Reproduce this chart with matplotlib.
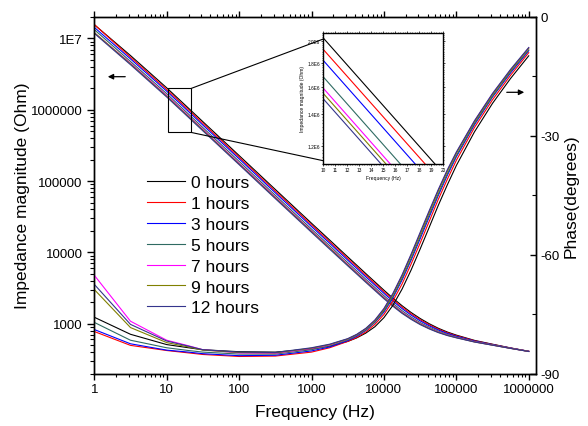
import matplotlib
matplotlib.use("Agg")
import matplotlib.pyplot as plt
from matplotlib.ticker import FixedLocator, NullFormatter, LogLocator
from matplotlib.patches import Rectangle, ConnectionPatch

plt.rcParams['font.family'] = ['Liberation Sans', 'DejaVu Sans']
plt.rcParams['axes.unicode_minus'] = False

# ---------------- data ----------------
freq = [1, 3.16, 10, 20, 31.6, 100, 316, 1000, 1780, 3160, 4220, 5620, 7500, 1e4,
        1.33e4, 1.78e4, 2.37e4, 3.16e4, 4.22e4, 5.62e4, 7.5e4, 1e5, 1.78e5, 3.16e5,
        5.62e5, 1e6]

labels = ['0 hours', '1 hours', '3 hours', '5 hours', '7 hours', '9 hours', '12 hours']
colors = ['#000000', '#ff0000', '#0000ff', '#2f6b62', '#ff00ff', '#808000', '#34348c']

z_0h = [1.56e7, 5.76e6, 2.03e6, 1.051e6, 6.80e5, 2.28e5, 7.63e4, 2.56e4, 1.49e4, 8650,
        6600, 5040, 3855, 2950, 2280, 1786, 1436, 1183, 998, 863, 764, 691, 583, 515, 457, 410]
z_1h = [1.57e7, 5.46e6, 1.92e6, 9.96e5, 6.45e5, 2.16e5, 7.23e4, 2.43e4, 1.41e4, 8210,
        6266, 4787, 3663, 2805, 2172, 1705, 1376, 1138, 965, 839, 746, 678, 576, 511, 455, 409]
z_3h = [1.43e7, 5.17e6, 1.82e6, 9.43e5, 6.10e5, 2.05e5, 6.84e4, 2.30e4, 1.34e4, 7778,
        5939, 4539, 3476, 2663, 2067, 1626, 1319, 1095, 934, 816, 729, 666, 570, 508, 454, 409]
z_5h = [1.33e7, 4.76e6, 1.68e6, 8.69e5, 5.62e5, 1.89e5, 6.31e4, 2.12e4, 1.24e4, 7186,
        5491, 4199, 3219, 2469, 1924, 1519, 1240, 1037, 892, 785, 707, 651, 562, 504, 452, 408]
z_7h = [1.20e7, 4.50e6, 1.59e6, 8.22e5, 5.32e5, 1.78e5, 5.97e4, 2.01e4, 1.17e4, 6807,
        5204, 3982, 3055, 2345, 1832, 1451, 1191, 1001, 865, 766, 693, 641, 557, 501, 451, 408]
z_9h = [1.21e7, 4.41e6, 1.55e6, 8.04e5, 5.20e5, 1.74e5, 5.84e4, 1.97e4, 1.15e4, 6663,
        5096, 3900, 2993, 2299, 1798, 1425, 1172, 988, 855, 759, 688, 637, 555, 500, 450, 408]
z_12h = [1.18e7, 4.29e6, 1.51e6, 7.82e5, 5.06e5, 1.70e5, 5.68e4, 1.91e4, 1.11e4, 6487,
         4962, 3799, 2917, 2241, 1756, 1394, 1150, 971, 844, 750, 682, 633, 553, 499, 450, 407]

p_0h = [-75.8, -80.1, -82.7, -83.5, -84.0, -84.5, -84.6, -83.8, -83.1, -81.9, -81.0, -79.8,
        -78.2, -75.9, -72.8, -68.7, -63.9, -58.6, -53.1, -47.6, -42.4, -37.5, -29.0, -21.8,
        -15.5, -9.8]
p_1h = [-79.4, -82.9, -84.2, -84.8, -85.2, -85.7, -85.6, -84.6, -83.5, -81.9, -80.9, -79.5,
        -77.6, -75.1, -71.7, -67.4, -62.4, -57.1, -51.6, -46.1, -41.0, -36.2, -27.9, -20.9,
        -14.7, -9.0]
p_3h = [-78.9, -82.5, -84.1, -84.6, -85.0, -85.5, -85.4, -84.3, -83.3, -81.7, -80.6, -79.1,
        -77.1, -74.5, -70.9, -66.4, -61.4, -56.0, -50.5, -45.1, -40.0, -35.3, -27.2, -20.2,
        -14.1, -8.5]
p_5h = [-77.1, -81.6, -83.5, -84.2, -84.6, -85.1, -85.1, -84.0, -83.0, -81.5, -80.4, -79.0,
        -77.0, -74.2, -70.6, -66.0, -61.0, -55.5, -50.0, -44.7, -39.6, -35.0, -26.9, -20.0,
        -13.8, -8.3]
p_7h = [-65.2, -76.8, -81.6, -83.0, -84.0, -84.8, -84.9, -83.7, -82.8, -81.3, -80.2, -78.7,
        -76.6, -73.7, -69.9, -65.3, -60.1, -54.7, -49.2, -43.8, -38.8, -34.3, -26.3, -19.4,
        -13.4, -7.8]
p_9h = [-68.8, -78.4, -82.2, -83.3, -84.1, -84.7, -84.8, -83.6, -82.7, -81.3, -80.2, -78.7,
        -76.7, -73.9, -70.1, -65.5, -60.3, -54.9, -49.4, -44.0, -39.0, -34.4, -26.5, -19.6,
        -13.5, -7.9]
p_12h = [-67.5, -77.6, -81.8, -83.1, -84.0, -84.6, -84.7, -83.5, -82.6, -81.2, -80.1, -78.6,
         -76.5, -73.6, -69.8, -65.1, -59.9, -54.4, -48.9, -43.6, -38.6, -34.1, -26.2, -19.3,
         -13.2, -7.7]

impedance = [z_0h, z_1h, z_3h, z_5h, z_7h, z_9h, z_12h]
phase = [p_0h, p_1h, p_3h, p_5h, p_7h, p_9h, p_12h]

x_ticks = [1, 10, 100, 1000, 10000, 100000, 1000000]
x_tick_labels = ['1', '10', '100', '1000', '10000', '100000', '1000000']
y_ticks = [1e3, 1e4, 1e5, 1e6, 1e7]
y_tick_labels = ['1000', '10000', '100000', '1000000', '1E7']
phase_ticks = [-90, -60, -30, 0]
phase_tick_labels = ['-90', '-60', '-30', '0']

inset_x_ticks = [10, 11, 12, 13, 14, 15, 16, 17, 18, 19, 20]
inset_y_ticks = [1.2e6, 1.4e6, 1.6e6, 1.8e6, 2.0e6]
inset_y_tick_labels = ['1.2E6', '1.4E6', '1.6E6', '1.8E6', '2.0E6']

# zoom box drawn on the main plot (freq range, impedance range)
zoom_box = (10.5, 22.0, 4.8e5, 2.0e6)

# ---------------- figure ----------------
W, H = 588, 427
fig = plt.figure(figsize=(W / 100, H / 100), dpi=100)
ax = fig.add_axes([94.3 / W, 1 - 374.5 / H, (536 - 94.3) / W, (374.5 - 18) / H])
ax2 = ax.twinx()

LW = 0.8
for z, c in zip(impedance, colors):
    ax.plot(freq, z, color=c, lw=LW)
handles = []
for p, c, lab in zip(phase, colors, labels):
    h, = ax2.plot(freq, p, color=c, lw=LW, label=lab)
    handles.append(h)

ax.set_xscale('log')
ax.set_yscale('log')
ax.set_xlim(1, 1.26e6)
ax.set_ylim(200, 2e7)
ax2.set_ylim(-90, 0)

ax.xaxis.set_major_locator(FixedLocator(x_ticks))
ax.set_xticklabels(x_tick_labels)
ax.xaxis.set_minor_locator(LogLocator(base=10, subs=range(2, 10), numticks=50))
ax.xaxis.set_minor_formatter(NullFormatter())
ax.yaxis.set_major_locator(FixedLocator(y_ticks))
ax.set_yticklabels(y_tick_labels)
ax.yaxis.set_minor_locator(LogLocator(base=10, subs=range(2, 10), numticks=50))
ax.yaxis.set_minor_formatter(NullFormatter())

ax2.yaxis.set_major_locator(FixedLocator(phase_ticks))
ax2.set_yticklabels(phase_tick_labels)
ax2.yaxis.set_minor_locator(FixedLocator([-75, -45, -15]))

for a in (ax, ax2):
    for s in a.spines.values():
        s.set_linewidth(1.0)

ax.tick_params(axis='x', which='major', direction='out', length=4, width=1, labelsize=9.5, pad=3)
ax.tick_params(axis='x', which='minor', direction='out', length=2.2, width=0.8)
ax.tick_params(axis='x', which='both', top=True)
ax.tick_params(axis='y', which='major', direction='out', length=5, width=1, labelsize=9.5, right=False)
ax.tick_params(axis='y', which='minor', direction='out', length=3, width=0.8, right=False)
ax2.tick_params(axis='y', which='major', direction='in', length=4, width=1, labelsize=9.5, pad=3)
ax2.tick_params(axis='y', which='minor', direction='in', length=3, width=0.8)

ax.set_xlabel('Frequency (Hz)', fontsize=12.5, labelpad=6)
ax.set_ylabel('Impedance magnitude (Ohm)', fontsize=12.5, labelpad=0.5)
ax2.set_ylabel('Phase(degrees)', fontsize=12.5, labelpad=3)

leg = ax2.legend(handles, labels, loc='upper left',
                 bbox_to_anchor=(146.5 / W, 1 - 176 / H), bbox_transform=fig.transFigure,
                 frameon=False, fontsize=12.5, handlelength=2.2, handletextpad=0.35,
                 labelspacing=0.33, borderpad=0, borderaxespad=0)

# arrows showing which axis each curve family belongs to
arrow = dict(arrowstyle='-|>', color='k', lw=0.9, mutation_scale=8)
ax.annotate('', xy=(105, H - 77.7), xytext=(128, H - 77.7), xycoords='figure pixels',
            textcoords='figure pixels', arrowprops=arrow)
ax.annotate('', xy=(527, H - 93.3), xytext=(504, H - 93.3), xycoords='figure pixels',
            textcoords='figure pixels', arrowprops=arrow)

# zoom rectangle
x0, x1, y0, y1 = zoom_box
ax2.add_patch(Rectangle((x0, y0), x1 - x0, y1 - y0, transform=ax.transData,
                        fill=False, edgecolor='k', lw=0.8, zorder=5))

# inset
axin = fig.add_axes([323.3 / W, 1 - 165 / H, 120 / W, 131 / H], zorder=10)
axin.set_facecolor('white')
for z, c in zip(impedance, colors):
    axin.plot(freq, z, color=c, lw=0.8)
axin.set_yscale('log')
axin.set_xlim(10, 20)
axin.set_ylim(1.10e6, 2.08e6)
axin.xaxis.set_major_locator(FixedLocator(inset_x_ticks))
axin.xaxis.set_minor_locator(FixedLocator([10 + 0.2 * i for i in range(51)]))
axin.yaxis.set_major_locator(FixedLocator(inset_y_ticks))
axin.set_yticklabels(inset_y_tick_labels)
axin.yaxis.set_minor_locator(FixedLocator([1.1e6 + 0.02e6 * i for i in range(50)]))
axin.yaxis.set_minor_formatter(NullFormatter())
axin.tick_params(which='major', labelsize=3.4, length=1.5, width=0.5, pad=1, direction='out')
axin.tick_params(which='minor', length=0.8, width=0.4, direction='out', top=True, right=True)
axin.tick_params(which='major', top=True, right=True)
for s in axin.spines.values():
    s.set_linewidth(1.0)
axin.set_xlabel('Frequency (Hz)', fontsize=3.6, labelpad=1.5)
axin.set_ylabel('Impedance magnitude (Ohm)', fontsize=3.6, labelpad=1.5)

for yA, yB in ((y1, 0.954), (y0, 0.025)):
    cp = ConnectionPatch(xyA=(x1, yA), coordsA=ax.transData, xyB=(0, yB), coordsB=axin.transAxes,
                         color='k', lw=0.8, zorder=9)
    fig.add_artist(cp)

fig.savefig('out.png', dpi=100)
